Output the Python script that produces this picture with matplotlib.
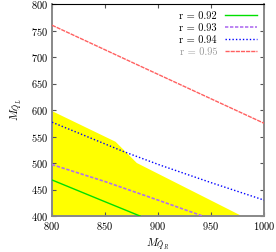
import matplotlib
matplotlib.use("Agg")
import matplotlib.pyplot as plt

plt.rcParams['font.family'] = ['cmr10', 'DejaVu Serif']
plt.rcParams['mathtext.fontset'] = 'cm'
plt.rcParams['axes.formatter.use_mathtext'] = True

# Data
yellow_x = [800, 860, 880, 979, 800]
yellow_y = [598, 540, 500, 400, 400]

r92_x = [800, 845, 883]
r92_y = [468, 431, 400]

r93_x = [800, 850, 900, 942]
r93_y = [497, 465, 430, 400]

r94_x = [800, 867, 902, 950, 1000]
r94_y = [577, 522, 496, 463, 430]

r95_x = [800, 883, 1000]
r95_y = [760, 683, 575]

labels = ['r = 0.92', 'r = 0.93', 'r = 0.94', 'r = 0.95']

fig = plt.figure(figsize=(2.76, 2.52), dpi=100)
ax = fig.add_axes([52/276, 1-216/252, 212/276, 212/252])

ax.fill(yellow_x, yellow_y, color='#ffff00', lw=0, zorder=1)
l1, = ax.plot(r92_x, r92_y, color='#00e000', lw=1.0, zorder=3)
l2, = ax.plot(r93_x, r93_y, color='#b070f0', lw=1.2, ls=(0, (2, 1)), zorder=3)
l3, = ax.plot(r94_x, r94_y, color='#0000ff', lw=1.0, ls=(0, (1, 1.5)), zorder=3)
l4, = ax.plot(r95_x, r95_y, color='#ff6060', lw=1.0, ls=(0, (3, 0.7)), zorder=3)

ax.set_xlim(800, 1000)
ax.set_ylim(400, 800)
ax.set_xticks([800, 850, 900, 950, 1000])
ax.set_yticks([400, 450, 500, 550, 600, 650, 700, 750, 800])
ax.tick_params(direction='in', length=3, width=0.8, labelsize=7.5,
               top=True, right=True, pad=3, color='#555555')

for s in ['left', 'right', 'bottom']:
    ax.spines[s].set_color('#888888')
    ax.spines[s].set_linewidth(1.4)
ax.spines['top'].set_color('black')
ax.spines['top'].set_linewidth(0.8)

leg = ax.legend([l1, l2, l3, l4], labels, loc='upper right', frameon=False,
                markerfirst=False, fontsize=7.5, handlelength=3.0,
                labelspacing=0.25, borderaxespad=0.3, handletextpad=0.8)
leg.get_texts()[3].set_color('#999999')

ax.set_xlabel(r'$M_{\tilde{Q}_R}$', fontsize=8, labelpad=3)
ax.set_ylabel(r'$M_{\tilde{Q}_L}$', fontsize=8, labelpad=4)

fig.savefig('out.png', dpi=100)
